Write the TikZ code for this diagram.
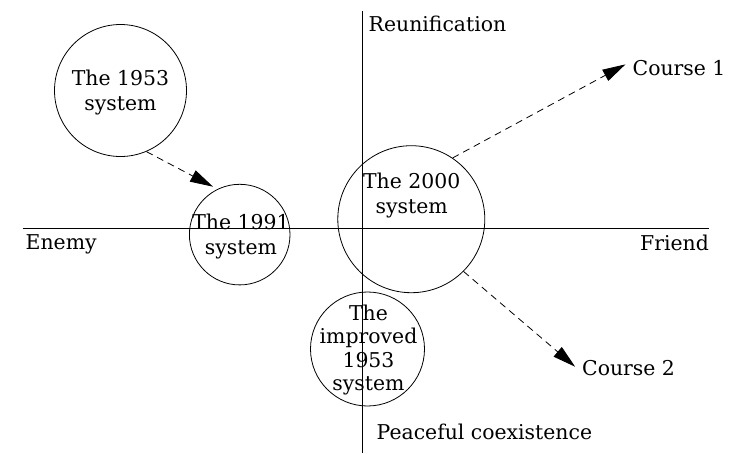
\documentclass[tikz,border=0pt]{standalone}
\usepackage{fontspec}
\setmainfont{DejaVu Serif}
\usetikzlibrary{arrows.meta}
\begin{document}
\begin{tikzpicture}[x=1pt,y=-1pt,
  sys/.style={draw,circle,inner sep=0pt,line width=0.8pt},
  lbl/.style={inner sep=0pt,font=\fontsize{20.4}{25}\selectfont},
  systext/.style={inner sep=0pt,align=center,font=\fontsize{20.4}{25}\selectfont},
  axis/.style={line width=0.9pt},
  flow/.style={line width=0.8pt,dash pattern=on 7pt off 5pt,-{Triangle[length=23pt,width=12.5pt]}}]
\useasboundingbox (0,0) rectangle (736,453);
% axes
\coordinate (hl) at (22.7,228.3);
\coordinate (hr) at (709.3,228.3);
\coordinate (vt) at (362,11);
\coordinate (vb) at (362,453);
\draw[axis] (hl) -- (hr);
\draw[axis] (vt) -- (vb);
% axis labels
\node[lbl,anchor=base west] (reun) at (368.5,31.7) {Reunification};
\node[lbl,anchor=base west] (peace) at (376.5,439.5) {Peaceful coexistence};
\node[lbl,anchor=base west] (enemy) at (25.5,249.3) {Enemy};
\node[lbl,anchor=base east] (friend) at (709,250) {Friend};
\node[lbl,anchor=base west] (course1) at (632.5,75) {Course 1};
\node[lbl,anchor=base west] (course2) at (582,375) {Course 2};
% systems
\node[sys,minimum size=132pt] (c53) at (120.5,90.5) {};
\node[systext] (t53) at (120.5,92.5) {The 1953\\system};
\node[sys,minimum size=100.6pt] (c91) at (239.7,234.6) {};
\node[systext] (t91) at (241,236.7) {The 1991\\system};
\node[sys,minimum size=147pt] (c00) at (411.3,219.2) {};
\node[systext] (t00) at (411.7,195.8) {The 2000\\system};
\node[sys,minimum size=114pt] (cimp) at (367.5,349) {};
\node[systext,font=\fontsize{20.4}{23.6}\selectfont] (timp) at (368.5,350) {The\\improved\\1953\\system};
% arrows
\draw[flow,shorten >=5pt] (c53.-67.6) -- (c91.116);
\draw[flow,shorten >=8pt] (c00.56) -- ([yshift=7pt]course1.west);
\draw[flow,shorten >=9pt] (c00.-45) -- ([yshift=-5pt]course2.west);
\end{tikzpicture}
\end{document}
